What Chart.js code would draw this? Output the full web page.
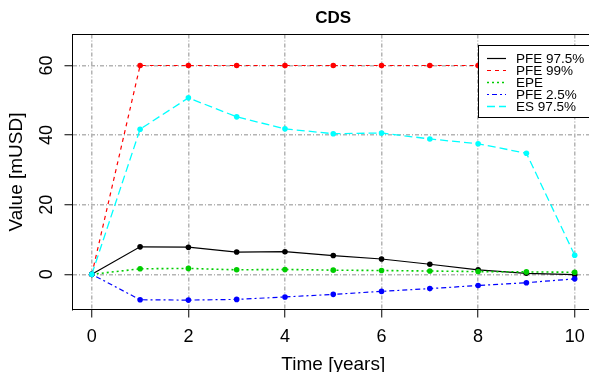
<!DOCTYPE html>
<html>
<head>
<meta charset="utf-8">
<script src="https://cdn.jsdelivr.net/npm/chart.js@4/dist/chart.umd.min.js"></script>
<style>
  html, body { margin: 0; padding: 0; background: #fff; overflow: hidden; }
  #wrap { width: 600px; height: 372px; }
</style>
</head>
<body>
<div id="wrap"><canvas id="cds" width="600" height="372"></canvas></div>
<script>
// ── Data ──────────────────────────────────────────────────────
const years    = [0, 1, 2, 3, 4, 5, 6, 7, 8, 9, 10];
const pfe975   = [0, 7.9, 7.8, 6.4, 6.5, 5.4, 4.4, 2.9, 1.3, 0.3, -0.1];
const pfe99    = [0, 60, 60, 60, 60, 60, 60, 60, 60, 60, 60];
const epe      = [0, 1.6, 1.7, 1.3, 1.4, 1.2, 1.1, 0.95, 0.8, 0.7, 0.6];
const pfe25    = [0, -7.3, -7.4, -7.2, -6.5, -5.75, -4.9, -4.1, -3.2, -2.4, -1.3];
const es975    = [0, 41.7, 50.7, 45.25, 41.8, 40.4, 40.6, 38.9, 37.5, 34.8, 5.5];
const xTicks   = [0, 2, 4, 6, 8, 10];
const yTicks   = [0, 20, 40, 60];

const FONT = '"Liberation Sans", Arial, Helvetica, sans-serif';

const SERIES = [
  { label: 'PFE 97.5%', data: pfe975, color: '#000000', dash: [], width: 1.2 },
  { label: 'PFE 99%',   data: pfe99,  color: '#FF0000', dash: [4, 4], width: 1.2 },
  { label: 'EPE',       data: epe,    color: '#00CD00', dash: [2, 3], width: 1.6 },
  { label: 'PFE 2.5%',  data: pfe25,  color: '#0000FF', dash: [2, 3, 5, 3], width: 1.2 },
  { label: 'ES 97.5%',  data: es975,  color: '#00FFFF', dash: [8, 4], width: 1.3 }
];

// ── R-style decorations: box, rotated y labels, titles, legend ──
const rStyle = {
  id: 'rStyle',
  afterDraw(chart) {
    const { ctx, chartArea: a, scales: { x, y } } = chart;
    ctx.save();

    // plot box (top / right)
    ctx.strokeStyle = '#000';
    ctx.lineWidth = 1;
    ctx.strokeRect(a.left, a.top, a.right - a.left, a.bottom - a.top);

    ctx.fillStyle = '#000';
    ctx.textAlign = 'center';
    ctx.textBaseline = 'middle';

    // x tick labels
    ctx.font = '18px ' + FONT;
    xTicks.forEach(v => ctx.fillText(String(v), x.getPixelForValue(v), 337));

    // y tick labels, parallel to the axis
    yTicks.forEach(v => {
      ctx.save();
      ctx.translate(47, y.getPixelForValue(v));
      ctx.rotate(-Math.PI / 2);
      ctx.fillText(String(v), 0, 0);
      ctx.restore();
    });

    // axis titles
    const midX = (a.left + a.right) / 2;
    const midY = (a.top + a.bottom) / 2;
    ctx.font = '19px ' + FONT;
    ctx.fillText('Time [years]', midX, 365);
    ctx.save();
    ctx.translate(17, midY);
    ctx.rotate(-Math.PI / 2);
    ctx.fillText('Value [mUSD]', 0, 0);
    ctx.restore();

    // main title
    ctx.font = 'bold 17px ' + FONT;
    ctx.fillText('CDS', midX, 18);

    // legend
    const lx = 478.5, ly = 45.5, lw = 130, lh = 72;
    ctx.fillStyle = '#fff';
    ctx.fillRect(lx, ly, lw, lh);
    ctx.strokeStyle = '#000';
    ctx.strokeRect(lx, ly, lw, lh);
    ctx.font = '13.5px ' + FONT;
    ctx.textAlign = 'left';
    SERIES.forEach((s, i) => {
      const ry = 58 + i * 12;
      ctx.strokeStyle = s.color;
      ctx.lineWidth = s.width;
      ctx.setLineDash(s.dash);
      ctx.beginPath();
      ctx.moveTo(487, ry + 0.5);
      ctx.lineTo(506, ry + 0.5);
      ctx.stroke();
      ctx.setLineDash([]);
      ctx.fillStyle = '#000';
      ctx.fillText(s.label, 516, ry + 1);
    });

    ctx.restore();
  }
};

const gridOpts = {
  color: '#b4b4b4',
  lineWidth: 1.5,
  drawTicks: true,
  tickLength: 8,
  tickColor: '#000',
  tickWidth: 1,
  tickBorderDash: []
};

new Chart(document.getElementById('cds'), {
  type: 'line',
  data: {
    datasets: SERIES.map((s, i) => ({
      label: s.label,
      data: years.map((t, k) => ({ x: t, y: s.data[k] })),
      borderColor: s.color,
      backgroundColor: s.color,
      borderWidth: s.width,
      borderDash: s.dash,
      pointRadius: 2.8,
      pointBorderWidth: 0,
      pointBackgroundColor: s.color,
      tension: 0,
      fill: false,
      order: SERIES.length - i
    }))
  },
  options: {
    responsive: false,
    animation: false,
    events: [],
    layout: { padding: { left: 64.5, top: 34.5, right: 6, bottom: 54.5 } },
    plugins: {
      legend: { display: false },
      title: { display: false },
      tooltip: { enabled: false }
    },
    scales: {
      x: {
        type: 'linear',
        min: -0.4,
        max: 10.4,
        ticks: { display: false, stepSize: 2, includeBounds: false },
        grid: { ...gridOpts },
        border: { display: true, color: '#000', width: 1, dash: [4, 2, 1, 2] }
      },
      y: {
        type: 'linear',
        min: -10.1,
        max: 68.9,
        ticks: { display: false, stepSize: 20, includeBounds: false },
        grid: { ...gridOpts },
        border: { display: true, color: '#000', width: 1, dash: [4, 2, 1, 2] }
      }
    }
  },
  plugins: [rStyle]
});
</script>
</body>
</html>
